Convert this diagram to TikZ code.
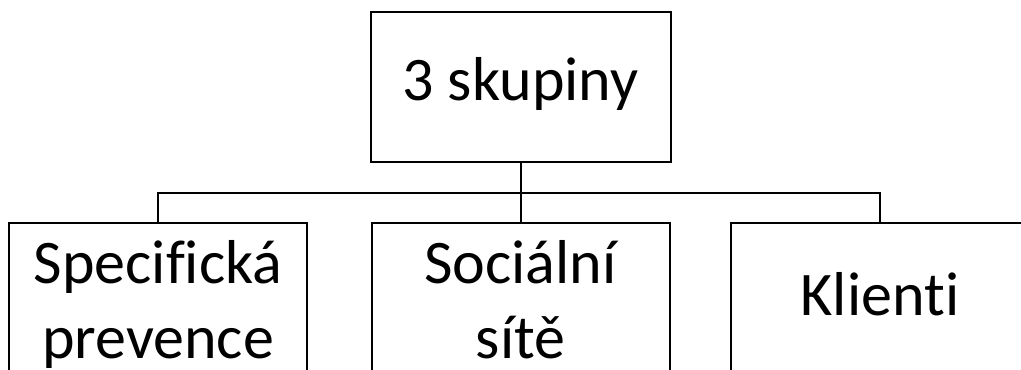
\documentclass[tikz,border=0pt]{standalone}
\usepackage{fontspec}
\setmainfont{Carlito}[Ligatures=CommonOff]
\usetikzlibrary{positioning}

\begin{document}
\begin{tikzpicture}[x=0.5pt,y=-0.5pt,line width=1pt,
  group node/.style={draw,rectangle,inner sep=0pt,align=center,
    minimum width=150pt,minimum height=75pt,
    font=\fontsize{31}{37.5}\selectfont},
  sub node/.style={group node,minimum width=149pt},
  one line/.style={text height=22pt,text depth=5pt},
  two lines/.style={text height=65pt,text depth=5pt}]
% picture frame
  \useasboundingbox (0,0) rectangle (1021,369);
  \clip (0,0) rectangle (1021,369);

% top box
  \node[group node,text height=20pt,text depth=7pt] (top) at (520.5,87) {3 skupiny};

% bottom row
  \node[sub node,two lines] (spec) at (158,298) {Specifická\\prevence};
  \node[sub node,two lines] (soc) at (520.5,298) {Sociální\\sítě};
  \node[sub node,one line] (kli) at (880,298) {Klienti};

% connectors
  \coordinate (split) at (top.south |- 0,193);
  \draw (top.south) -- (split);
  \draw (split) -| (spec.north);
  \draw (split) -- (soc.north);
  \draw (split) -| (kli.north);

\end{tikzpicture}
\end{document}
